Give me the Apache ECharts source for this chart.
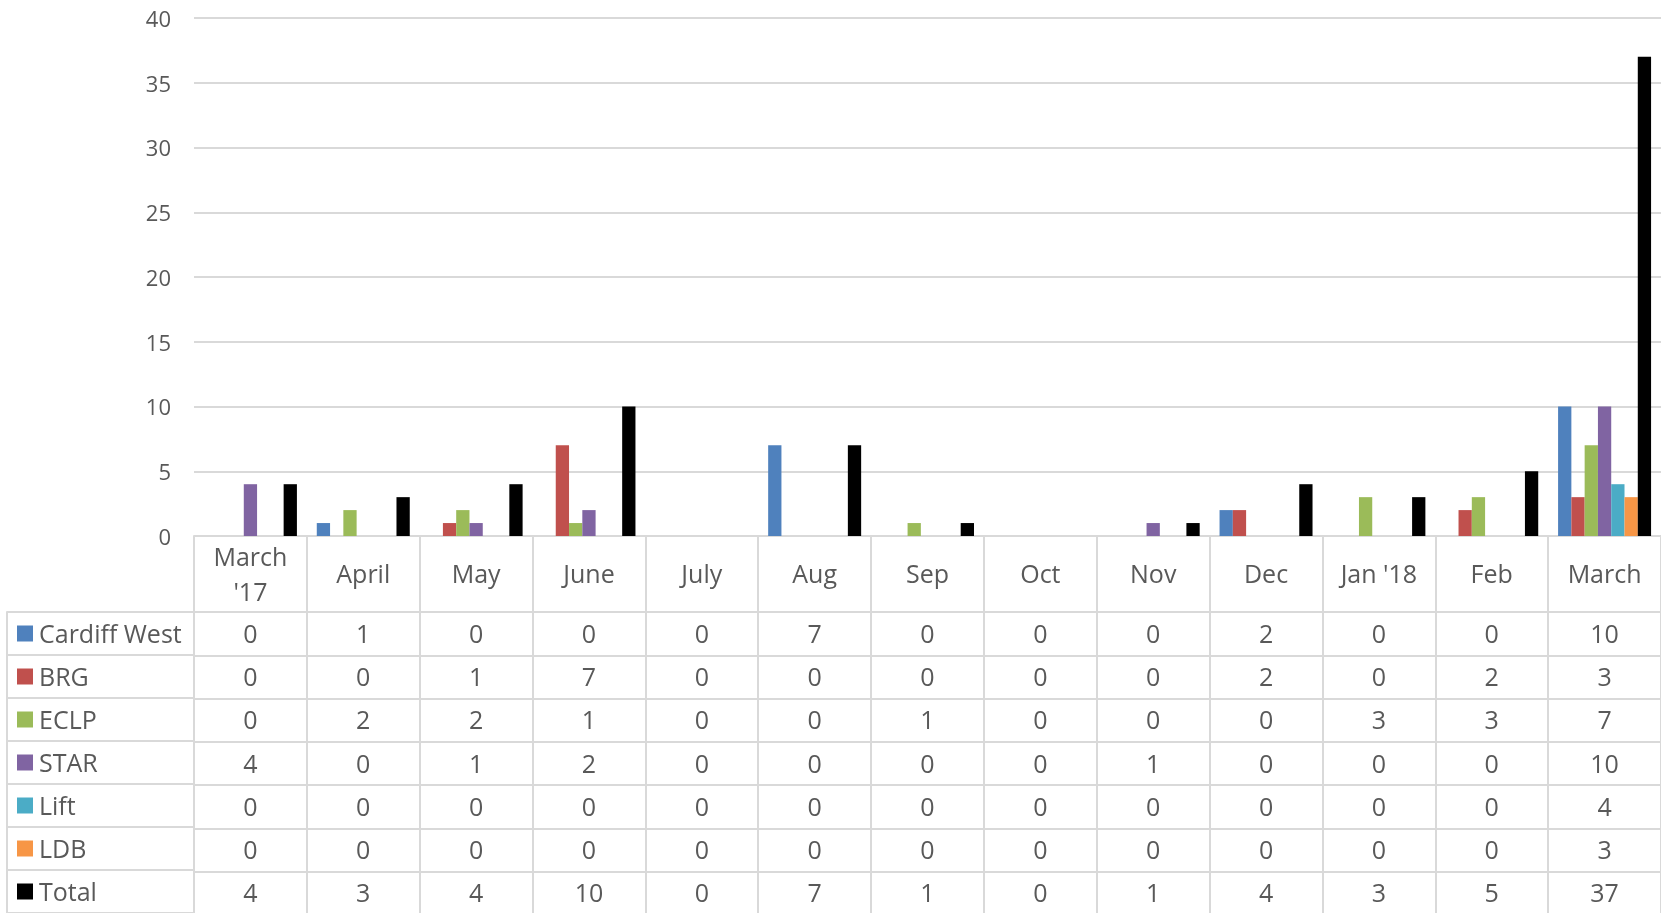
<!DOCTYPE html>
<html>
<head>
<meta charset="utf-8">
<script src="https://cdn.jsdelivr.net/npm/echarts@6/dist/echarts.min.js"></script>
<style>
  html, body { margin: 0; padding: 0; background: #fff; }
  #chart { width: 1661px; height: 913px; }
</style>
</head>
<body>
<div id="chart"></div>
<script>
var categories = ["March\n'17", 'April', 'May', 'June', 'July', 'Aug', 'Sep', 'Oct', 'Nov', 'Dec', "Jan '18", 'Feb', 'March'];
var seriesNames = ['Cardiff West', 'BRG', 'ECLP', 'STAR', 'Lift', 'LDB', 'Total'];
var cardiffWest = [0, 1, 0, 0, 0, 7, 0, 0, 0, 2, 0, 0, 10];
var brg         = [0, 0, 1, 7, 0, 0, 0, 0, 0, 2, 0, 2, 3];
var eclp        = [0, 2, 2, 1, 0, 0, 1, 0, 0, 0, 3, 3, 7];
var star        = [4, 0, 1, 2, 0, 0, 0, 0, 1, 0, 0, 0, 10];
var lift        = [0, 0, 0, 0, 0, 0, 0, 0, 0, 0, 0, 0, 4];
var ldb         = [0, 0, 0, 0, 0, 0, 0, 0, 0, 0, 0, 0, 3];
var total       = [4, 3, 4, 10, 0, 7, 1, 0, 1, 4, 3, 5, 37];
var yTicks = { min: 0, max: 40, interval: 5 };

var rows = [cardiffWest, brg, eclp, star, lift, ldb, total];
var colors = ['#4F81BD', '#C0504D', '#9BBB59', '#8064A2', '#4BACC6', '#F79646', '#000000'];

var FONT = 'Open Sans';
var TXT = '#595959';
var LINE = '#D9D9D9';
var catRowH = 76;
var rowH = 43.25;

var chart = echarts.init(document.getElementById('chart'));

var xAxes = [{
  type: 'category', gridIndex: 0, position: 'bottom', data: categories,
  axisLine: { show: true, onZero: false, lineStyle: { color: LINE, width: 2 } },
  axisTick: { show: true, interval: 0, length: catRowH, lineStyle: { color: LINE, width: 2 } },
  axisLabel: { interval: 0, color: TXT, fontFamily: FONT, fontSize: 25, lineHeight: 35,
               verticalAlign: 'middle', margin: catRowH / 2 + 2 }
}];
rows.forEach(function (r, i) {
  xAxes.push({
    type: 'category', gridIndex: 0, position: 'bottom', data: categories,
    offset: catRowH + i * rowH,
    axisLine: { show: true, onZero: false, lineStyle: { color: LINE, width: 2 } },
    axisTick: { show: true, interval: 0, length: rowH, lineStyle: { color: LINE, width: 2 } },
    axisLabel: { interval: 0, color: TXT, fontFamily: FONT, fontSize: 25,
                 verticalAlign: 'middle', margin: rowH / 2 + 2,
                 formatter: function (v, idx) { return String(r[idx]); } },
    splitLine: { show: false }
  });
});
xAxes.push({ type: 'value', gridIndex: 1, show: false });

var rich = { t: { color: TXT, fontFamily: FONT, fontSize: 25, padding: [4, 0, 0, 6] } };
colors.forEach(function (c, i) {
  rich['s' + i] = { width: 16, height: 16, backgroundColor: c };
});

var series = seriesNames.map(function (name, i) {
  return {
    name: name, type: 'bar', xAxisIndex: 0, yAxisIndex: 0,
    data: rows[i],
    barGap: '0%', barCategoryGap: '17.6%',
    itemStyle: { color: colors[i] },
    animation: false
  };
});

chart.setOption({
  animation: false,
  backgroundColor: '#ffffff',
  grid: [
    { left: 194, top: 18, width: 1471.5, height: 518, containLabel: false },
    { left: 7, top: 612, width: 187, height: 7 * rowH, containLabel: false }
  ],
  xAxis: xAxes,
  yAxis: [
    {
      type: 'value', gridIndex: 0, min: yTicks.min, max: yTicks.max, interval: yTicks.interval,
      axisLine: { show: false }, axisTick: { show: false },
      axisLabel: {
        margin: 23,
        formatter: function (v) { return '{a|' + v + '}'; },
        rich: { a: { color: TXT, fontFamily: FONT, fontSize: 22, padding: [5, 0, 0, 0] } }
      },
      splitLine: { show: true, lineStyle: { color: LINE, width: 2 } }
    },
    {
      type: 'category', gridIndex: 1, data: seriesNames, inverse: true, position: 'left',
      axisLine: { show: true, onZero: false, lineStyle: { color: LINE, width: 2 } },
      axisTick: { show: false },
      splitLine: { show: true, interval: 0, lineStyle: { color: LINE, width: 2 } },
      axisLabel: {
        inside: true, align: 'left', margin: 10, interval: 0,
        formatter: function (v, idx) { return '{s' + idx + '|}{t|' + v + '}'; },
        rich: rich
      }
    }
  ],
  series: series
});
</script>
</body>
</html>
